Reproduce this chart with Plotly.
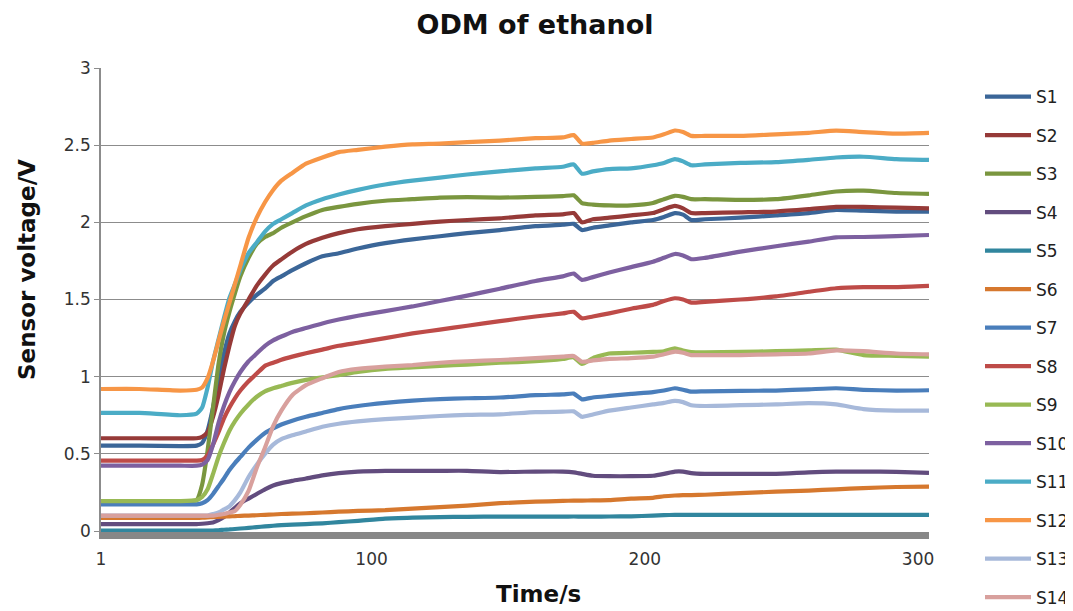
import plotly.graph_objects as go

time_s = [1, 15, 30, 36, 38, 40, 42, 44, 46, 48, 50, 52, 55, 58, 61, 64, 67, 71, 76, 82,
          88, 95, 105, 115, 125, 135, 147, 160, 170, 174, 177, 181, 187, 195, 203, 207, 211,
          214, 217, 222, 235, 248, 260, 270, 280, 292, 304]

s1 = [0.553, 0.553, 0.55, 0.553, 0.57, 0.65, 0.80, 0.98, 1.15, 1.28, 1.36, 1.42, 1.48, 1.53, 1.57,
      1.62, 1.65, 1.69, 1.735, 1.78, 1.80, 1.83, 1.865, 1.89, 1.91, 1.93, 1.95, 1.975, 1.985, 1.99,
      1.95, 1.965, 1.98, 2.0, 2.015, 2.035, 2.06, 2.05, 2.015, 2.02, 2.03, 2.045, 2.06, 2.08, 2.075,
      2.07, 2.07]
s2 = [0.601, 0.601, 0.60, 0.601, 0.61, 0.64, 0.74, 0.88, 1.05, 1.2, 1.33, 1.41, 1.5, 1.59, 1.66,
      1.72, 1.76, 1.81, 1.86, 1.9, 1.93, 1.955, 1.975, 1.99, 2.005, 2.015, 2.026, 2.045, 2.052, 2.06,
      2.0, 2.02, 2.03, 2.045, 2.06, 2.085, 2.106, 2.09, 2.06, 2.06, 2.065, 2.07, 2.085, 2.1, 2.1,
      2.095, 2.09]
s3 = [0.19, 0.19, 0.19, 0.2, 0.3, 0.52, 0.8, 1.08, 1.28, 1.42, 1.54, 1.65, 1.77, 1.86, 1.905,
      1.93, 1.965, 2.0, 2.04, 2.08, 2.1, 2.12, 2.14, 2.15, 2.16, 2.163, 2.16, 2.165, 2.17, 2.175,
      2.125, 2.115, 2.11, 2.11, 2.125, 2.15, 2.172, 2.165, 2.15, 2.15, 2.145, 2.15, 2.175, 2.2, 2.205,
      2.19, 2.185]
s4 = [0.045, 0.045, 0.045, 0.045, 0.047, 0.05, 0.055, 0.07, 0.09, 0.12, 0.15, 0.18, 0.21, 0.24, 0.27,
      0.295, 0.31, 0.325, 0.34, 0.36, 0.375, 0.385, 0.39, 0.39, 0.39, 0.39, 0.382, 0.385, 0.385, 0.38,
      0.37, 0.358, 0.355, 0.355, 0.358, 0.37, 0.385, 0.385, 0.375, 0.37, 0.37, 0.37, 0.38, 0.385, 0.385,
      0.383, 0.376]
s5 = [0.002, 0.002, 0.002, 0.002, 0.002, 0.002, 0.003, 0.005, 0.008, 0.01, 0.013, 0.016, 0.02, 0.025, 0.03,
      0.034, 0.038, 0.041, 0.045, 0.05, 0.057, 0.066, 0.08, 0.086, 0.09, 0.092, 0.093, 0.093, 0.093, 0.094,
      0.093, 0.093, 0.094, 0.095, 0.1, 0.103, 0.104, 0.104, 0.104, 0.104, 0.104, 0.104, 0.104, 0.104, 0.104,
      0.104, 0.104]
s6 = [0.085, 0.085, 0.085, 0.085, 0.086, 0.088, 0.09, 0.092, 0.093, 0.095, 0.096, 0.098, 0.1, 0.102, 0.105,
      0.107, 0.11, 0.112, 0.115, 0.12, 0.125, 0.13, 0.135, 0.145, 0.155, 0.165, 0.18, 0.19, 0.195, 0.197,
      0.197, 0.198, 0.2, 0.21, 0.215, 0.225, 0.23, 0.232, 0.233, 0.235, 0.245, 0.255, 0.262, 0.27, 0.278,
      0.285, 0.288]
s7 = [0.173, 0.173, 0.173, 0.173, 0.18, 0.2, 0.24, 0.29, 0.34, 0.395, 0.44, 0.48, 0.54, 0.59, 0.635,
      0.665, 0.69, 0.715, 0.74, 0.765, 0.79, 0.81, 0.83, 0.845, 0.855, 0.86, 0.865, 0.88, 0.885, 0.89,
      0.853, 0.865, 0.875, 0.888, 0.9, 0.91, 0.925, 0.915, 0.903, 0.905, 0.908, 0.91, 0.918, 0.925, 0.915,
      0.91, 0.912]
s8 = [0.456, 0.456, 0.456, 0.456, 0.46, 0.49, 0.56, 0.64, 0.73, 0.8, 0.86, 0.91, 0.97, 1.02, 1.07,
      1.09, 1.11, 1.13, 1.152, 1.175, 1.2, 1.22, 1.25, 1.28, 1.305, 1.33, 1.36, 1.39, 1.41, 1.42,
      1.378, 1.39, 1.41, 1.44, 1.465, 1.49, 1.508, 1.5, 1.48, 1.485, 1.5, 1.52, 1.55, 1.573, 1.58,
      1.58, 1.588]
s9 = [0.194, 0.194, 0.194, 0.2, 0.22, 0.27, 0.37, 0.48, 0.57, 0.65, 0.71, 0.76, 0.82, 0.87, 0.905,
      0.925, 0.94, 0.96, 0.979, 0.995, 1.01, 1.03, 1.05, 1.06, 1.07, 1.078, 1.09, 1.1, 1.115, 1.125,
      1.082, 1.12, 1.15, 1.155, 1.16, 1.165, 1.184, 1.17, 1.16, 1.158, 1.16, 1.165, 1.17, 1.175, 1.14,
      1.135, 1.13]
s10 = [0.423, 0.423, 0.423, 0.423, 0.43, 0.46, 0.56, 0.7, 0.81, 0.9, 0.97, 1.03, 1.1, 1.15, 1.2,
       1.235, 1.26, 1.29, 1.315, 1.345, 1.37, 1.395, 1.425, 1.455, 1.49, 1.525, 1.57, 1.62, 1.65, 1.668,
       1.627, 1.645, 1.675, 1.71, 1.745, 1.77, 1.795, 1.785, 1.761, 1.77, 1.81, 1.845, 1.875, 1.903, 1.905,
       1.91, 1.918]
s11 = [0.765, 0.765, 0.75, 0.76, 0.8, 0.93, 1.1, 1.24, 1.38, 1.51, 1.6, 1.69, 1.8, 1.87, 1.94,
       1.99, 2.02, 2.06, 2.11, 2.15, 2.18, 2.21, 2.245, 2.27, 2.29, 2.31, 2.33, 2.35, 2.36, 2.375,
       2.315, 2.33, 2.345, 2.35, 2.37, 2.385, 2.41, 2.395, 2.37, 2.375, 2.385, 2.39, 2.405, 2.42, 2.425,
       2.41, 2.405]
s12 = [0.92, 0.92, 0.91, 0.915, 0.93, 0.99, 1.1, 1.23, 1.36, 1.48, 1.6, 1.72, 1.9, 2.03, 2.13,
       2.21, 2.27, 2.32, 2.38, 2.42, 2.455, 2.47, 2.49, 2.505, 2.51, 2.52, 2.53, 2.545, 2.55, 2.565,
       2.51, 2.515, 2.53, 2.54, 2.55, 2.57, 2.595, 2.585, 2.56, 2.56, 2.56, 2.57, 2.58, 2.594, 2.585,
       2.575, 2.58]
s13 = [0.1, 0.1, 0.1, 0.1, 0.1, 0.1, 0.11, 0.12, 0.14, 0.16, 0.2, 0.25, 0.35, 0.43, 0.5,
       0.56, 0.595, 0.62, 0.645, 0.675, 0.695, 0.71, 0.725, 0.735, 0.745, 0.752, 0.756, 0.77, 0.773, 0.775,
       0.74, 0.755, 0.78, 0.8, 0.82, 0.83, 0.843, 0.835, 0.815, 0.81, 0.815, 0.82, 0.828, 0.82, 0.79,
       0.78, 0.78]
s14 = [0.1, 0.1, 0.1, 0.1, 0.1, 0.1, 0.1, 0.105, 0.11, 0.12, 0.13, 0.17, 0.26, 0.41, 0.54,
       0.68, 0.78, 0.88, 0.945, 0.99, 1.03, 1.05, 1.065, 1.075, 1.09, 1.1, 1.108, 1.12, 1.13, 1.134,
       1.097, 1.105, 1.115, 1.12, 1.13, 1.145, 1.162, 1.155, 1.14, 1.14, 1.14, 1.145, 1.15, 1.17, 1.165,
       1.15, 1.145]

series_names = ["S1", "S2", "S3", "S4", "S5", "S6", "S7", "S8", "S9", "S10", "S11", "S12", "S13", "S14"]
series_values = [s1, s2, s3, s4, s5, s6, s7, s8, s9, s10, s11, s12, s13, s14]
series_colors = ["#3B6698", "#963A38", "#7A963F", "#624C7E", "#31869E", "#D6782E",
                 "#4A7EBB", "#BE4B48", "#98B954", "#7D60A0", "#4BACC6", "#F79646",
                 "#A7B9DA", "#D8A09D"]

x_tick_vals = [1, 100, 200, 300]
y_tick_vals = [0, 0.5, 1, 1.5, 2, 2.5, 3]
y_tick_text = ["0", "0.5", "1", "1.5", "2", "2.5", "3"]

FONT = "DejaVu Sans"
# the page body adds an 8 px margin, so the figure is sized to fit inside the window
W, H = 1065, 603

fig = go.Figure()
for name, vals, col in zip(series_names, series_values, series_colors):
    fig.add_trace(go.Scatter(
        x=time_s, y=vals, name=name, mode="lines", legendgroup=name,
        line=dict(color=col, width=4.2, shape="spline", smoothing=0.5),
    ))

fig.update_layout(
    width=W, height=H,
    margin=dict(l=93, r=144, t=60, b=79, autoexpand=False),
    paper_bgcolor="white", plot_bgcolor="white",
    font=dict(family=FONT, size=17, color="#333333"),
    title=dict(text="<b>ODM of ethanol</b>", x=527 / W, xref="container", xanchor="center",
               y=1 - 17 / H, yref="container", yanchor="middle",
               font=dict(family=FONT, size=27, color="#111111")),
    legend=dict(x=(980 - 101) / 828, xanchor="left", y=(532 - 79) / 464, yanchor="top",
                font=dict(family=FONT, size=17, color="#222222"),
                tracegroupgap=13.4, itemwidth=46, bgcolor="rgba(0,0,0,0)"),
    showlegend=True,
)
try:
    fig.update_layout(legend_maxheight=600)
except Exception:
    pass

fig.update_xaxes(
    range=[1, 304], tickvals=x_tick_vals, ticktext=[str(v) for v in x_tick_vals],
    showgrid=False, zeroline=False,
    showline=True, linecolor="#878787", linewidth=7,
    ticks="", tickfont=dict(family=FONT, size=17, color="#333333"),
)
try:
    fig.update_xaxes(ticklabelstandoff=6)
except Exception:
    pass
fig.update_yaxes(
    range=[-0.0065, 3.0], tickvals=y_tick_vals, ticktext=y_tick_text,
    showgrid=True, gridcolor="#8C8C8C", gridwidth=1, zeroline=False,
    showline=True, linecolor="#8C8C8C", linewidth=1.5,
    ticks="outside", ticklen=5, tickcolor="#8C8C8C",
    tickfont=dict(family=FONT, size=17, color="#333333"),
)

fig.add_annotation(text="<b>Sensor voltage/V</b>", xref="paper", yref="paper",
                   x=(27 - 101) / 828, y=(532 - 270) / 464, textangle=-90,
                   showarrow=False, xanchor="center", yanchor="middle",
                   font=dict(family=FONT, size=23, color="#111111"))
fig.add_annotation(text="<b>Time/s</b>", xref="paper", yref="paper",
                   x=(538 - 101) / 828, y=(532 - 594) / 464,
                   showarrow=False, xanchor="center", yanchor="middle",
                   font=dict(family=FONT, size=23, color="#111111"))

fig.write_html("out.html")
